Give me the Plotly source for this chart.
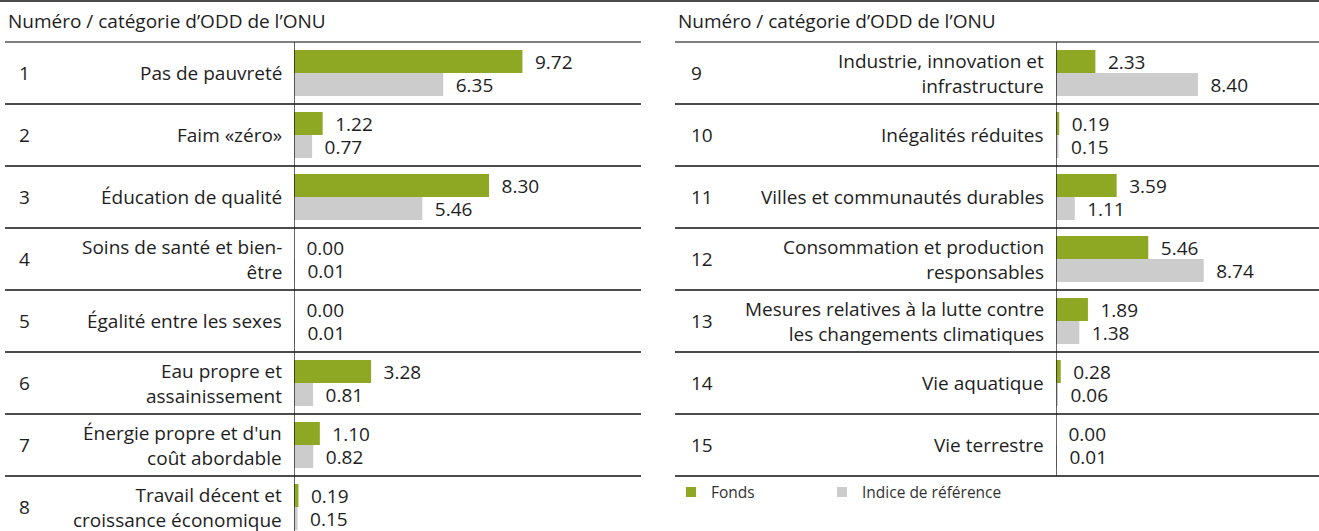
import plotly.graph_objects as go

# ---------------- data ----------------
left_nums = ["1", "2", "3", "4", "5", "6", "7", "8"]
left_labels = [
    "Pas de pauvreté",
    "Faim «zéro»",
    "Éducation de qualité",
    "Soins de santé et bien-<br>être",
    "Égalité entre les sexes",
    "Eau propre et<br>assainissement",
    "Énergie propre et d'un<br>coût abordable",
    "Travail décent et<br>croissance économique",
]
left_fonds = [9.72, 1.22, 8.30, 0.00, 0.00, 3.28, 1.10, 0.19]
left_indice = [6.35, 0.77, 5.46, 0.01, 0.01, 0.81, 0.82, 0.15]

right_nums = ["9", "10", "11", "12", "13", "14", "15"]
right_labels = [
    "Industrie, innovation et<br>infrastructure",
    "Inégalités réduites",
    "Villes et communautés durables",
    "Consommation et production<br>responsables",
    "Mesures relatives à la lutte contre<br>les changements climatiques",
    "Vie aquatique",
    "Vie terrestre",
]
right_fonds = [2.33, 0.19, 3.59, 5.46, 1.89, 0.28, 0.00]
right_indice = [8.40, 0.15, 1.11, 8.74, 1.38, 0.06, 0.01]

header = "Numéro / catégorie d’ODD de l’ONU"
legend_names = ["Fonds", "Indice de référence"]

# ---------------- style ----------------
W, H = 1319, 531
GREEN = "#8FA823"
GREY = "#CCCCCC"
TXT = "#1e1e1e"
FONT = "Open Sans"
FS = 19

def px_x(p):
    return p / W

def px_y(p):
    return 1 - p / H

left_idx = list(range(len(left_labels)))
right_idx = list(range(len(right_labels)))

fig = go.Figure()

def add_bars(vals, idx, color, name, xaxis):
    fig.add_trace(go.Bar(
        x=vals, y=idx, orientation="h", name=name,
        marker=dict(color=color, line=dict(width=0)),
        xaxis=xaxis, yaxis="y",
        text=[f"{v:.2f}" for v in vals],
        texttemplate="\u2002%{text}",
        textposition="outside", constraintext="none", cliponaxis=False,
        textfont=dict(family=FONT, size=FS, color=TXT),
        showlegend=False, hoverinfo="skip",
    ))

add_bars(left_fonds, left_idx, GREEN, legend_names[0], "x")
add_bars(left_indice, left_idx, GREY, legend_names[1], "x")
add_bars(right_fonds, right_idx, GREEN, legend_names[0], "x2")
add_bars(right_indice, right_idx, GREY, legend_names[1], "x2")

# scales (px per unit)
LS = 23.5
RS = 16.9
L0, L1 = 294, 641
R0, R1 = 1056, 1319
ROW_TOP, ROW_H = 42, 62
y_top = -0.5 - ROW_TOP / ROW_H
y_bot = -0.5 + (H - ROW_TOP) / ROW_H

fig.update_layout(
    width=W, height=H,
    margin=dict(l=0, r=0, t=0, b=0),
    paper_bgcolor="white", plot_bgcolor="white",
    barmode="group", bargap=0.258, bargroupgap=0,
    font=dict(family=FONT, size=FS, color=TXT),
    xaxis=dict(domain=[px_x(L0), px_x(L1)], range=[0, (L1 - L0) / LS],
               visible=False, fixedrange=True),
    xaxis2=dict(domain=[px_x(R0), px_x(R1)], range=[0, (R1 - R0) / RS],
                visible=False, anchor="y", fixedrange=True),
    yaxis=dict(domain=[0, 1], range=[y_bot, y_top], visible=False, fixedrange=True),
)

shapes = []
# top line
shapes.append(dict(type="line", xref="paper", yref="paper", x0=0, x1=1,
                   y0=px_y(1), y1=px_y(1), line=dict(color="#111", width=1.5)))
# header lines
for x0, x1 in [(5, L1), (675, W)]:
    shapes.append(dict(type="line", xref="paper", yref="y", x0=px_x(x0), x1=px_x(x1),
                       y0=-0.5, y1=-0.5, line=dict(color="#808080", width=2)))
# row separators
for i in left_idx[:-1]:
    shapes.append(dict(type="line", xref="paper", yref="y", x0=px_x(5), x1=px_x(L1),
                       y0=i + 0.5, y1=i + 0.5, line=dict(color="#111", width=1.5)))
for i in right_idx:
    shapes.append(dict(type="line", xref="paper", yref="y", x0=px_x(675), x1=1,
                       y0=i + 0.5, y1=i + 0.5, line=dict(color="#111", width=1.5)))
# vertical axis lines
shapes.append(dict(type="line", xref="x", yref="y", x0=0, x1=0, y0=-0.5, y1=y_bot,
                   line=dict(color="#111", width=1.3)))
shapes.append(dict(type="line", xref="x2", yref="y", x0=0, x1=0, y0=-0.5,
                   y1=right_idx[-1] + 0.5, line=dict(color="#111", width=1.3)))

# legend squares
for (sx, col) in [(686, GREEN), (837, GREY)]:
    shapes.append(dict(type="rect", xref="paper", yref="paper",
                       x0=px_x(sx), x1=px_x(sx + 10), y0=px_y(497), y1=px_y(487),
                       fillcolor=col, line=dict(width=0)))

ann = []
# headers
for hx in [6, 676]:
    ann.append(dict(text=header, xref="paper", yref="paper", x=px_x(hx), y=px_y(21),
                    xanchor="left", yanchor="middle", showarrow=False,
                    font=dict(size=FS, color=TXT)))
# numbers & labels
for nums, labels, idx, nx, xr in [(left_nums, left_labels, left_idx, 17, "x"),
                                   (right_nums, right_labels, right_idx, 689, "x2")]:
    for n, lab, i in zip(nums, labels, idx):
        ann.append(dict(text=n, xref="paper", yref="y", x=px_x(nx), y=i,
                        xanchor="left", yanchor="middle", showarrow=False,
                        font=dict(size=FS, color=TXT)))
        ann.append(dict(text=lab, xref=xr, yref="y", x=0, y=i, xshift=-10,
                        xanchor="right", yanchor="middle", align="right",
                        showarrow=False, font=dict(size=FS, color=TXT)))
# legend text
for tx, name in [(709, legend_names[0]), (860, legend_names[1])]:
    ann.append(dict(text=name, xref="paper", yref="paper", x=px_x(tx), y=px_y(492),
                    xanchor="left", yanchor="middle", showarrow=False,
                    font=dict(size=15.5, color="#333")))

fig.update_layout(shapes=shapes, annotations=ann)
fig.write_html("out.html", config={"displayModeBar": False},
               post_script="document.body.style.margin='0';document.body.style.overflow='hidden';")
